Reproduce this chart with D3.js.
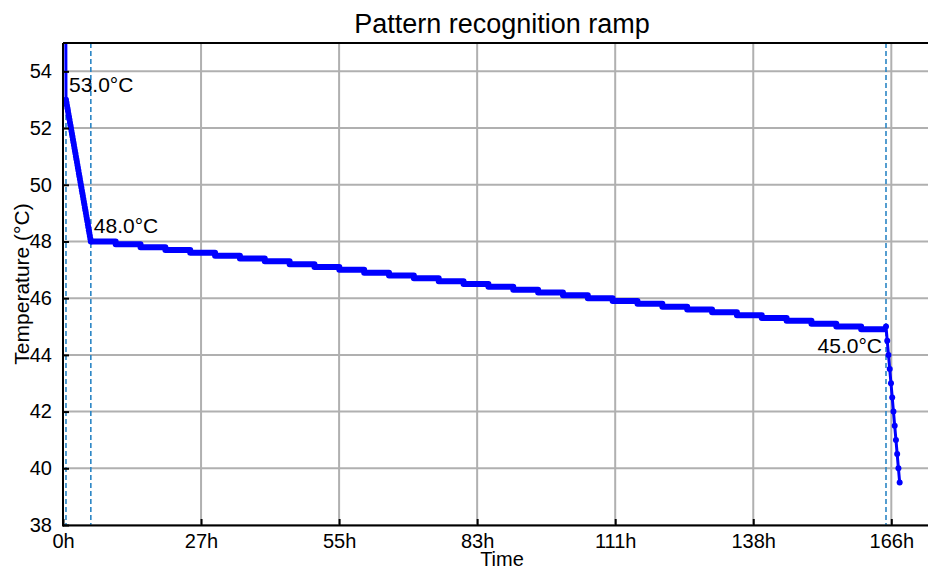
<!DOCTYPE html>
<html>
<head>
<meta charset="utf-8">
<script src="https://cdn.jsdelivr.net/npm/d3@7"></script>
<style>
  body { margin: 0; background: #fff; }
  svg { font-family: "Liberation Sans", Arial, Helvetica, sans-serif; }
</style>
</head>
<body>
<div id="chart"></div>
<script>
// first ramp: 53.0 -> 48.0 at 1 °C/h, one reading every 6 min
const ramp1Hours = [0, 0.6, 0.7, 0.8, 0.9, 1.0, 1.1, 1.2, 1.3, 1.4, 1.5, 1.6, 1.7, 1.8, 1.9, 2.0,
  2.1, 2.2, 2.3, 2.4, 2.5, 2.6, 2.7, 2.8, 2.9, 3.0, 3.1, 3.2, 3.3, 3.4, 3.5,
  3.6, 3.7, 3.8, 3.9, 4.0, 4.1, 4.2, 4.3, 4.4, 4.5, 4.6, 4.7, 4.8, 4.9, 5.0,
  5.1, 5.2, 5.3, 5.4, 5.5, 5.6];
const ramp1Temps = [95, 53.0, 52.9, 52.8, 52.7, 52.6, 52.5, 52.4, 52.3, 52.2, 52.1, 52.0, 51.9, 51.8, 51.7, 51.6,
  51.5, 51.4, 51.3, 51.2, 51.1, 51.0, 50.9, 50.8, 50.7, 50.6, 50.5, 50.4, 50.3, 50.2, 50.1,
  50.0, 49.9, 49.8, 49.7, 49.6, 49.5, 49.4, 49.3, 49.2, 49.1, 49.0, 48.9, 48.8, 48.7, 48.6,
  48.5, 48.4, 48.3, 48.2, 48.1, 48.0];

// hold: setpoint drops 0.1 °C every 5 h
const holdHours = [5.6, 10.6, 15.6, 20.6, 25.6, 30.6, 35.6, 40.6, 45.6, 50.6, 55.6, 60.6, 65.6, 70.6,
  75.6, 80.6, 85.6, 90.6, 95.6, 100.6, 105.6, 110.6, 115.6, 120.6, 125.6, 130.6, 135.6,
  140.6, 145.6, 150.6, 155.6, 160.6, 165.6];
const holdTemps = [48.0, 47.9, 47.8, 47.7, 47.6, 47.5, 47.4, 47.3, 47.2, 47.1, 47.0, 46.9, 46.8, 46.7,
  46.6, 46.5, 46.4, 46.3, 46.2, 46.1, 46.0, 45.9, 45.8, 45.7, 45.6, 45.5, 45.4,
  45.3, 45.2, 45.1, 45.0, 44.9, 44.9];

// final ramp: 45.0 -> 39.5
const ramp2Hours = [165.6, 165.85, 166.1, 166.35, 166.6, 166.85, 167.1, 167.35, 167.6, 167.85, 168.1, 168.35];
const ramp2Temps = [45.0, 44.5, 44.0, 43.5, 43.0, 42.5, 42.0, 41.5, 41.0, 40.5, 40.0, 39.5];

// phase markers
const markHours = [0.6, 5.6, 165.6];
const markTemps = [53.0, 48.0, 45.0];
const markLabels = ["53.0°C", "48.0°C", "45.0°C"];

const xTickSeconds = [0, 100000, 200000, 300000, 400000, 500000, 600000];
const xTickLabels = ["0h", "27h", "55h", "83h", "111h", "138h", "166h"];
const yTicks = [38, 40, 42, 44, 46, 48, 50, 52, 54];

const W = 928, H = 571;
const margin = { top: 43, right: -13, bottom: 46, left: 63 };
const width = W - margin.left - margin.right;
const height = H - margin.top - margin.bottom;

const svg = d3.select('#chart')
  .append('svg')
    .attr('width', W)
    .attr('height', H);

const g = svg.append('g')
    .attr('transform', `translate(${margin.left},${margin.top})`);

const x = d3.scaleLinear()
    .domain([0, 636000])
    .range([0, width]);

const y = d3.scaleLinear()
    .domain([38, 55])
    .range([height, 0]);

svg.append('defs').append('clipPath')
    .attr('id', 'plot-clip')
  .append('rect')
    .attr('width', width)
    .attr('height', height);

// grid
g.append('g')
  .selectAll('line')
  .data(yTicks)
  .join('line')
    .attr('x1', 0).attr('x2', width)
    .attr('y1', d => y(d)).attr('y2', d => y(d))
    .attr('stroke', '#b0b0b0')
    .attr('stroke-width', 2);

g.append('g')
  .selectAll('line')
  .data(xTickSeconds)
  .join('line')
    .attr('x1', d => x(d)).attr('x2', d => x(d))
    .attr('y1', 0).attr('y2', height)
    .attr('stroke', '#b0b0b0')
    .attr('stroke-width', 2);

// phase dashed lines
g.append('g')
  .selectAll('line')
  .data(markHours)
  .join('line')
    .attr('x1', d => x(d * 3600)).attr('x2', d => x(d * 3600))
    .attr('y1', 0).attr('y2', height)
    .attr('stroke', '#2b86c5')
    .attr('stroke-width', 1.6)
    .attr('stroke-dasharray', '5,3');

const plot = g.append('g').attr('clip-path', 'url(#plot-clip)');

const ramp1 = ramp1Hours.map((h, i) => [h * 3600, ramp1Temps[i]]);
const hold = holdHours.map((h, i) => [h * 3600, holdTemps[i]]);
const ramp2 = ramp2Hours.map((h, i) => [h * 3600, ramp2Temps[i]]);

const line = d3.line().x(d => x(d[0])).y(d => y(d[1]));
const stepLine = d3.line().x(d => x(d[0])).y(d => y(d[1])).curve(d3.curveStepAfter);

plot.append('path')
    .datum(ramp1)
    .attr('fill', 'none')
    .attr('stroke', '#0000ff')
    .attr('stroke-width', 3)
    .attr('d', line);

plot.append('path')
    .datum(hold)
    .attr('fill', 'none')
    .attr('stroke', '#0000ff')
    .attr('stroke-width', 6)
    .attr('stroke-linejoin', 'round')
    .attr('d', stepLine);

plot.append('path')
    .datum([hold[hold.length - 1], ramp2[0]].concat(ramp2.slice(1)))
    .attr('fill', 'none')
    .attr('stroke', '#0000ff')
    .attr('stroke-width', 3)
    .attr('d', line);

plot.append('g')
  .selectAll('circle')
  .data(ramp1.slice(1).concat(ramp2))
  .join('circle')
    .attr('cx', d => x(d[0]))
    .attr('cy', d => y(d[1]))
    .attr('r', 3)
    .attr('fill', '#0000ff');

// annotations
g.append('g')
  .selectAll('text')
  .data(markHours)
  .join('text')
    .attr('x', (d, i) => x(d * 3600) + (i < 2 ? 3 : -4))
    .attr('y', (d, i) => y(markTemps[i]) + (i < 2 ? -8 : 26))
    .attr('text-anchor', (d, i) => i < 2 ? 'start' : 'end')
    .attr('font-size', 21)
    .attr('fill', '#000')
    .text((d, i) => markLabels[i]);

// spines
g.append('line').attr('x1', 0).attr('x2', width).attr('y1', 0).attr('y2', 0)
  .attr('stroke', '#000').attr('stroke-width', 2);
g.append('line').attr('x1', 0).attr('x2', width).attr('y1', height + 0.5).attr('y2', height + 0.5)
  .attr('stroke', '#000').attr('stroke-width', 2);
g.append('line').attr('x1', 0).attr('x2', 0).attr('y1', 0).attr('y2', height + 1.5)
  .attr('stroke', '#000').attr('stroke-width', 2);

// axes with inward ticks
const xAxis = d3.axisBottom(x)
    .tickValues(xTickSeconds)
    .tickFormat((d, i) => xTickLabels[i])
    .tickSizeInner(-6)
    .tickSizeOuter(0)
    .tickPadding(9);

const xg = g.append('g')
    .attr('transform', `translate(0,${height})`)
    .call(xAxis);
xg.select('.domain').remove();
xg.selectAll('.tick line').attr('stroke', '#000').attr('stroke-width', 2);
xg.selectAll('.tick text').attr('font-size', 20).attr('fill', '#000')
  .attr('font-family', '"Liberation Sans", Arial, sans-serif');

const yAxis = d3.axisLeft(y)
    .tickValues(yTicks)
    .tickSizeInner(-6)
    .tickSizeOuter(0)
    .tickPadding(11);

const yg = g.append('g').call(yAxis);
yg.select('.domain').remove();
yg.selectAll('.tick line').attr('stroke', '#000').attr('stroke-width', 2);
yg.selectAll('.tick text').attr('font-size', 20).attr('fill', '#000')
  .attr('font-family', '"Liberation Sans", Arial, sans-serif');

// titles
svg.append('text')
    .attr('x', margin.left + width / 2)
    .attr('y', 33)
    .attr('text-anchor', 'middle')
    .attr('font-size', 27)
    .text('Pattern recognition ramp');

svg.append('text')
    .attr('x', margin.left + width / 2)
    .attr('y', 566)
    .attr('text-anchor', 'middle')
    .attr('font-size', 20)
    .text('Time');

svg.append('text')
    .attr('transform', `translate(29,${margin.top + height / 2}) rotate(-90)`)
    .attr('text-anchor', 'middle')
    .attr('font-size', 21)
    .text('Temperature (°C)');
</script>
</body>
</html>
